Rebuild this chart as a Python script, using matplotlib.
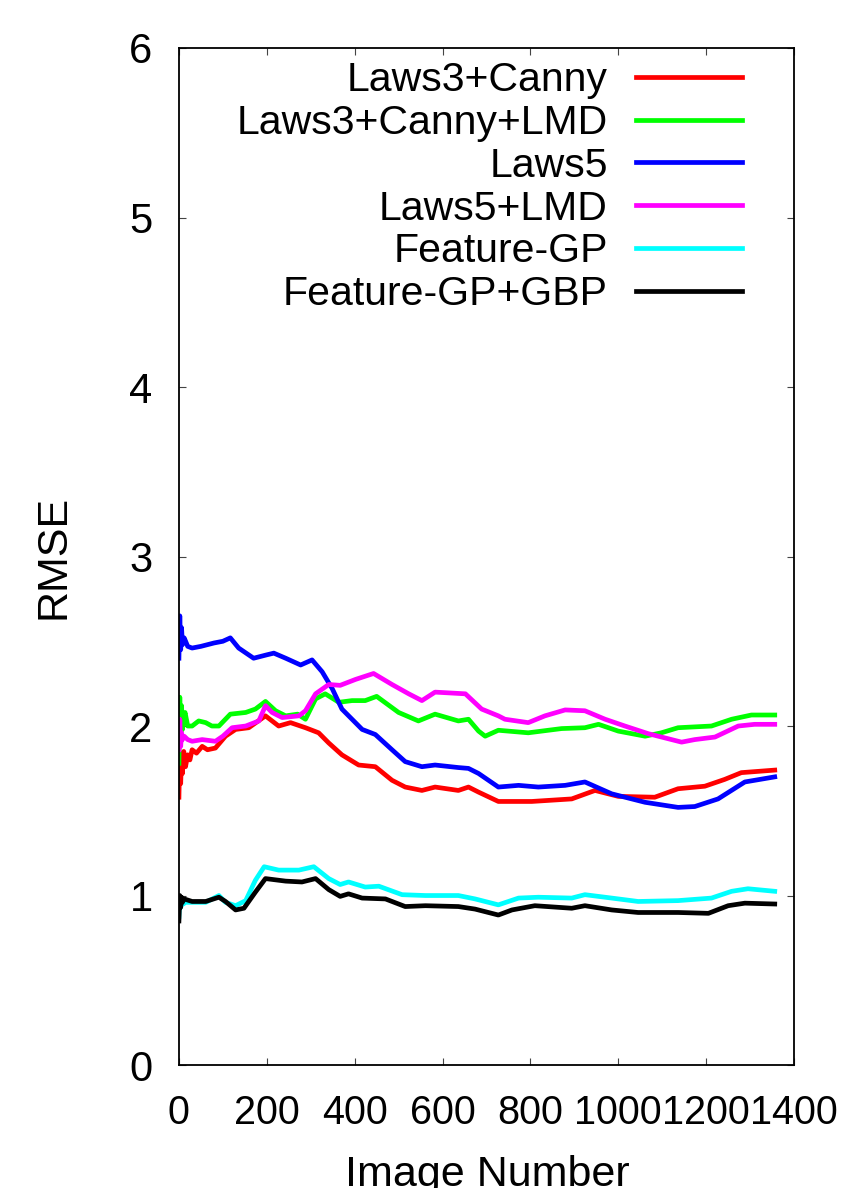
#!/usr/bin/env python3
"""RMSE per image number for the texture / feature methods."""

import matplotlib
matplotlib.use("Agg")
import matplotlib.pyplot as plt

plt.rcParams['font.family'] = ['Liberation Sans', 'DejaVu Sans']

# values (image number, running RMSE)
laws3_canny_x = [0, 2, 4, 6, 8, 11, 15, 20, 25, 30, 40, 53, 65, 83, 106, 129, 159, 197, 227, 254,
                 288, 318, 341, 371, 409, 447, 485, 515, 553, 583, 636, 659, 682, 727, 803, 894,
                 947, 1000, 1083, 1136, 1197, 1242, 1280, 1356]
laws3_canny_y = [1.58, 1.84, 1.66, 1.82, 1.72, 1.85, 1.76, 1.83, 1.80, 1.86, 1.84, 1.88, 1.86, 1.87,
                 1.94, 1.98, 1.99, 2.06, 2.00, 2.02, 1.99, 1.96, 1.90, 1.83, 1.77, 1.76, 1.68, 1.64,
                 1.62, 1.64, 1.62, 1.64, 1.61, 1.555, 1.555, 1.57, 1.62, 1.585, 1.58, 1.63, 1.645,
                 1.685, 1.725, 1.74]

laws3_lmd_x = [0, 2, 4, 6, 8, 10, 14, 20, 30, 45, 61, 75, 91, 117, 152, 174, 197, 220, 243, 270,
               288, 311, 333, 364, 394, 424, 450, 500, 545, 583, 636, 659, 682, 697, 727, 795, 871,
               924, 955, 1000, 1061, 1098, 1136, 1212, 1258, 1303, 1356]
laws3_lmd_y = [1.78, 2.17, 1.90, 2.12, 1.98, 2.04, 2.08, 2.00, 2.00, 2.03, 2.02, 2.00, 2.00, 2.07,
               2.08, 2.10, 2.145, 2.09, 2.06, 2.07, 2.04, 2.16, 2.19, 2.14, 2.15, 2.15, 2.175, 2.08,
               2.03, 2.07, 2.03, 2.04, 1.97, 1.94, 1.975, 1.96, 1.985, 1.99, 2.01, 1.97, 1.94, 1.96,
               1.99, 2.00, 2.04, 2.065, 2.065]

laws5_x = [0, 2, 4, 6, 8, 12, 20, 30, 50, 80, 100, 117, 136, 170, 200, 216, 243, 277, 303, 326,
           349, 371, 394, 417, 447, 485, 515, 553, 583, 636, 659, 682, 727, 773, 818, 879, 924,
           985, 1061, 1136, 1174, 1227, 1288, 1356]
laws5_y = [2.40, 2.65, 2.45, 2.58, 2.48, 2.52, 2.47, 2.46, 2.47, 2.49, 2.50, 2.52, 2.46, 2.40, 2.42,
           2.43, 2.40, 2.36, 2.39, 2.32, 2.22, 2.10, 2.04, 1.98, 1.95, 1.86, 1.79, 1.76, 1.77, 1.755,
           1.75, 1.72, 1.64, 1.65, 1.64, 1.65, 1.67, 1.60, 1.55, 1.52, 1.525, 1.57, 1.67, 1.70]

laws5_lmd_x = [0, 2, 4, 6, 8, 12, 20, 30, 53, 83, 100, 121, 152, 182, 197, 212, 235, 273, 288, 311,
               341, 367, 402, 443, 485, 523, 553, 583, 652, 689, 727, 742, 795, 833, 879, 924, 970,
               1015, 1068, 1144, 1174, 1220, 1273, 1310, 1356]
laws5_lmd_y = [1.86, 2.04, 1.88, 1.96, 1.92, 1.94, 1.92, 1.91, 1.92, 1.91, 1.94, 1.99, 2.00, 2.03,
               2.12, 2.08, 2.05, 2.06, 2.09, 2.19, 2.245, 2.24, 2.275, 2.31, 2.245, 2.19, 2.15, 2.20,
               2.19, 2.10, 2.06, 2.04, 2.02, 2.06, 2.095, 2.09, 2.04, 2.00, 1.955, 1.905, 1.92,
               1.935, 2.00, 2.01, 2.01]

fgp_x = [0, 2, 4, 6, 10, 15, 30, 61, 91, 106, 129, 152, 174, 194, 227, 273, 307, 341, 367, 386,
         424, 455, 508, 561, 636, 674, 727, 773, 818, 894, 924, 985, 1045, 1136, 1212, 1258, 1295,
         1356]
fgp_y = [0.875, 0.98, 0.93, 0.97, 0.95, 0.96, 0.96, 0.96, 1.00, 0.96, 0.94, 0.97, 1.09, 1.17, 1.15,
         1.15, 1.17, 1.10, 1.065, 1.08, 1.05, 1.055, 1.005, 1.00, 1.00, 0.98, 0.945, 0.985, 0.99,
         0.985, 1.005, 0.985, 0.965, 0.97, 0.985, 1.025, 1.04, 1.025]

fgp_gbp_x = [0, 2, 4, 6, 8, 12, 30, 61, 91, 106, 129, 148, 174, 197, 243, 280, 311, 341, 367, 386,
             417, 470, 515, 561, 636, 674, 727, 758, 810, 894, 924, 985, 1045, 1136, 1205, 1250,
             1288, 1356]
fgp_gbp_y = [0.85, 1.00, 0.93, 0.99, 0.96, 0.98, 0.965, 0.965, 0.99, 0.965, 0.915, 0.925, 1.02, 1.10,
             1.085, 1.08, 1.10, 1.035, 0.995, 1.01, 0.985, 0.98, 0.935, 0.94, 0.935, 0.92, 0.885,
             0.915, 0.94, 0.925, 0.94, 0.915, 0.90, 0.90, 0.895, 0.94, 0.955, 0.95]

labels = ['Laws3+Canny', 'Laws3+Canny+LMD', 'Laws5', 'Laws5+LMD', 'Feature-GP', 'Feature-GP+GBP']
colors = ['#ff0000', '#00ff00', '#0000ff', '#ff00ff', '#00ffff', '#000000']
xticks = [0, 200, 400, 600, 800, 1000, 1200, 1400]
yticks = [0, 1, 2, 3, 4, 5, 6]

series = [(laws3_canny_x, laws3_canny_y), (laws3_lmd_x, laws3_lmd_y), (laws5_x, laws5_y),
          (laws5_lmd_x, laws5_lmd_y), (fgp_x, fgp_y), (fgp_gbp_x, fgp_gbp_y)]

fig = plt.figure(figsize=(8.52, 11.88), dpi=100)
ax = fig.add_axes([0.210, 0.1035, 0.722, 0.8561])

for (xs, ys), lab, col in zip(series, labels, colors):
    ax.plot(xs, ys, color=col, linewidth=3.4, label=lab, solid_joinstyle='round')

ax.set_xlim(0, 1400)
ax.set_ylim(0, 6)
ax.set_xticks(xticks)
ax.set_yticks(yticks)

ax.tick_params(direction='in', length=5, width=0.8, color='#444444',
               top=True, right=True)
ax.tick_params(axis='y', labelsize=30, pad=19)
ax.tick_params(axis='x', labelsize=28.5, pad=21)
for sp in ax.spines.values():
    sp.set_linewidth(1.3)

fig.text(54 / 852, 0.531, 'RMSE', rotation=90, fontsize=31, ha='center', va='center')
fig.text(0.572, 2 / 1188, 'Image Number', fontsize=31, ha='center', va='baseline')

leg = ax.legend(loc='upper right', bbox_to_anchor=(0.9155, 0.987), frameon=False,
                markerfirst=False, fontsize=29.5, handlelength=2.6, handletextpad=0.68,
                labelspacing=0.117, borderpad=0, borderaxespad=0)
for line in leg.get_lines():
    line.set_linewidth(3.4)

fig.savefig('out.png', dpi=100)
